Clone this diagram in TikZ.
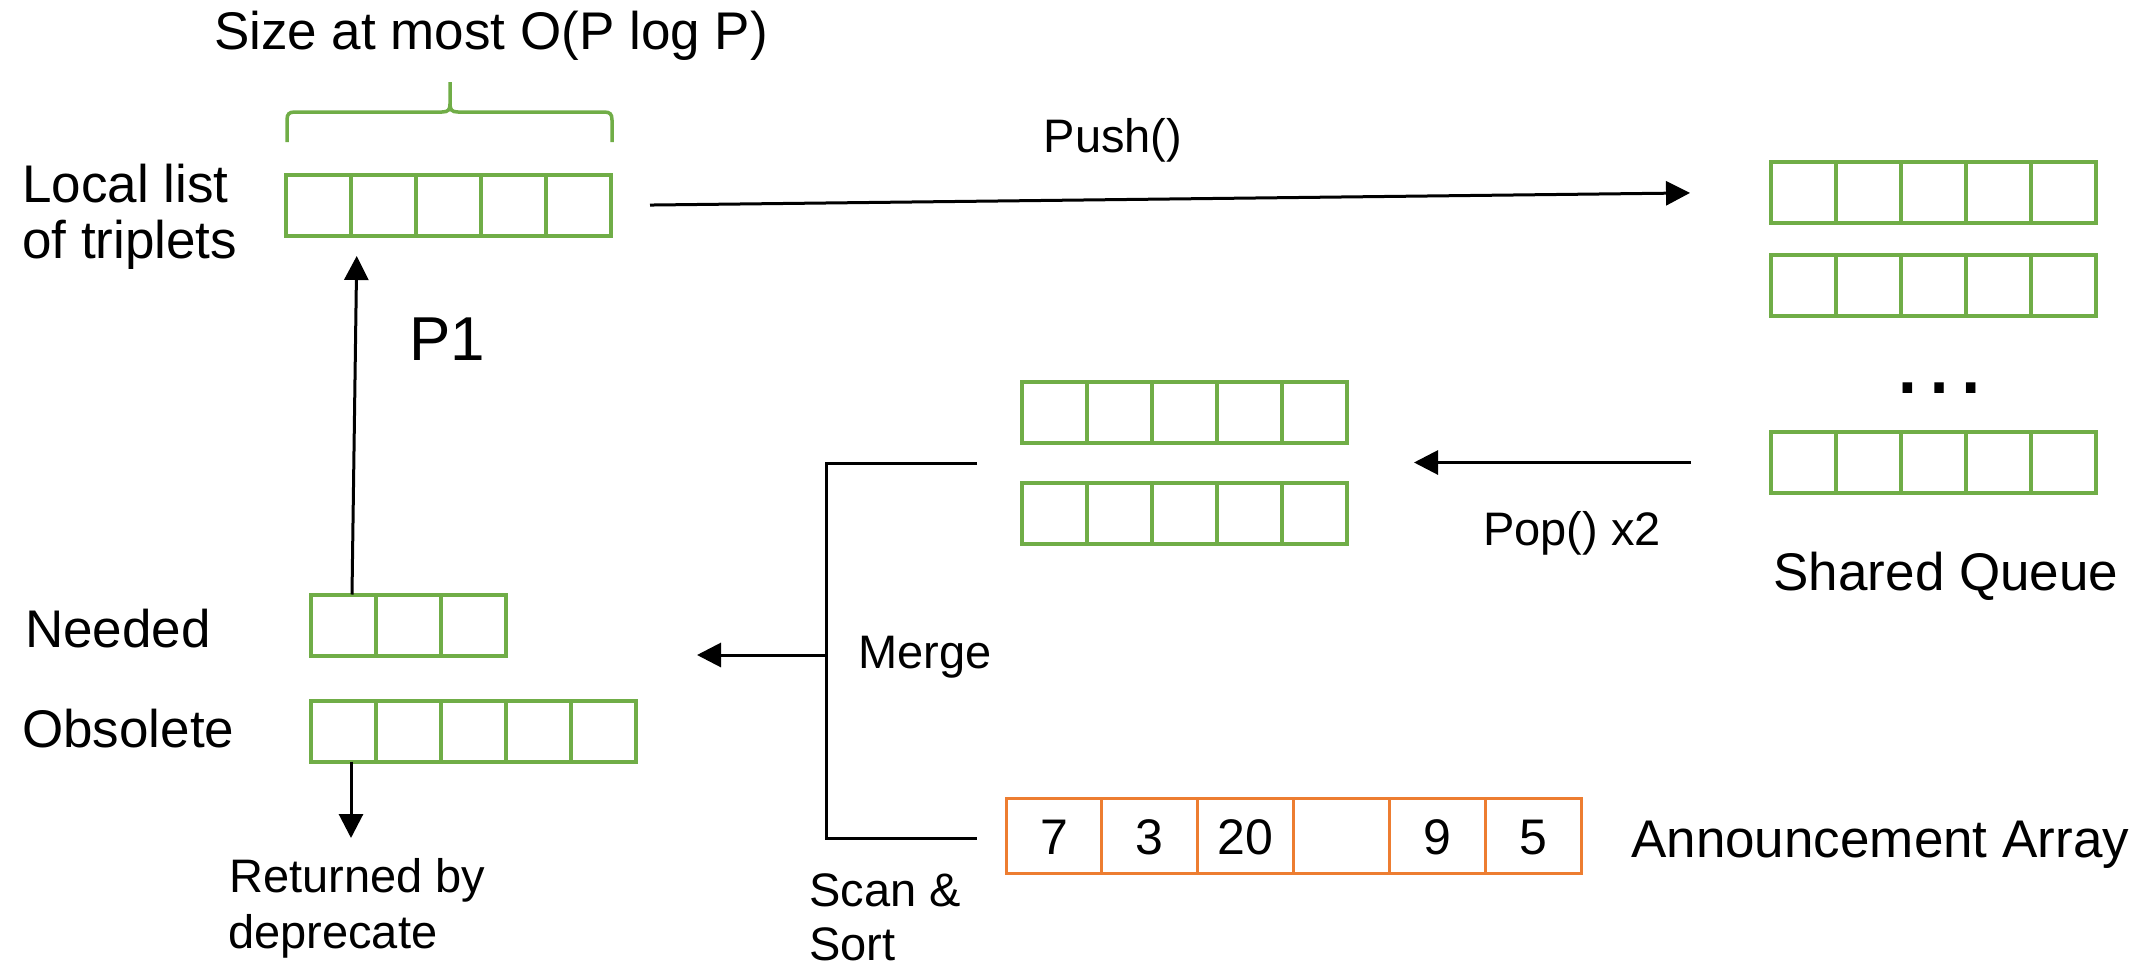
\documentclass[tikz,border=0pt]{standalone}
\usepackage{fontspec}
\setmainfont{Liberation Sans}
\usetikzlibrary{arrows.meta,calc}
\definecolor{cellgreen}{HTML}{70AD47}
\definecolor{cellorange}{HTML}{ED7D31}

% vertical separators inside a row of cells: node, number of separators, cell width, style
\newcommand\celldividers[4]{%
  \foreach \k in {1,...,#2}
    \draw[#4] ([xshift=\k*#3 pt]#1.north west) -- ([xshift=\k*#3 pt]#1.south west);}

\begin{document}
\begin{tikzpicture}[x=1pt,y=-1pt,
  big/.style={font=\fontsize{53}{60}\selectfont, inner sep=0pt},
  small/.style={font=\fontsize{47}{54}\selectfont, inner sep=0pt},
  num/.style={font=\fontsize{50}{56}\selectfont, inner sep=0pt},
  greenrow/.style={draw=cellgreen, line width=4pt, minimum height=61pt,
    inner sep=0pt, outer sep=0pt},
  greendiv/.style={draw=cellgreen, line width=3.5pt},
  orangerow/.style={draw=cellorange, line width=3pt, minimum height=75pt,
    minimum width=575pt, inner sep=0pt, outer sep=0pt},
  orangediv/.style={draw=cellorange, line width=3pt},
  conn/.style={line width=3pt},
  arr/.style={conn, -{Triangle[length=24pt,width=24pt]}},
]
\useasboundingbox (0,0) rectangle (2149,966);

% ---- local list of the process ----
\node[greenrow, minimum width=325pt] (loc) at (448.5,205.5) {};
\celldividers{loc}{4}{65}{greendiv}
\node[big, anchor=base west] (loclbl1) at (22,202) {Local list};
\node[big, anchor=base west] (loclbl2) at (22,258) {of triplets};

% size brace
\draw[cellgreen, line width=3.5pt]
  (287,142) -- (287,120) .. controls (287,114) and (289,112) .. (295,112)
  -- (442,112) .. controls (448,112) and (450,110) .. (450,104) -- (450,82);
\draw[cellgreen, line width=3.5pt]
  (450,104) .. controls (450,110) and (452,112) .. (458,112)
  -- (604,112) .. controls (610,112) and (612,114) .. (612,120) -- (612,142);
\node[big, anchor=base] (sizelbl) at (491,50) {Size at most O(P log P)};

\node[font=\fontsize{62}{66}\selectfont, inner sep=0pt, anchor=base] (p1) at (447,360) {P1};

% ---- shared queue ----
\node[greenrow, minimum width=325pt] (q1) at (1933.5,192) {};
\celldividers{q1}{4}{65}{greendiv}
\node[greenrow, minimum width=325pt] (q2) at (1933.5,285.5) {};
\celldividers{q2}{4}{65}{greendiv}
\node[greenrow, minimum width=325pt] (q3) at (1933.5,462.5) {};
\celldividers{q3}{4}{65}{greendiv}
\node[font=\fontsize{100}{100}\selectfont, inner sep=0pt, anchor=base] (qdots) at (1939,393) {…};
\node[big, anchor=base] (qlbl) at (1946,590) {Shared Queue};

% ---- popped lists ----
\node[greenrow, minimum width=325pt] (pa) at (1184.5,412) {};
\celldividers{pa}{4}{65}{greendiv}
\node[greenrow, minimum width=325pt] (pb) at (1184.5,513) {};
\celldividers{pb}{4}{65}{greendiv}
\coordinate (pmid) at ($(pa.south east)!0.5!(pb.north east)$);

% ---- announcement array ----
\node[orangerow] (ann) at (1293.5,835.5) {};
\celldividers{ann}{5}{95.83}{orangediv}
\foreach \c/\v in {1/7,2/3,3/20,5/9,6/5}
  \node[num, anchor=base] (ann\c) at ($(ann.west)+(\c*95.83-47.9,19)$) {\v};
\node[big, anchor=base west] (annlbl) at (1631,857) {Announcement Array};

% ---- needed / obsolete ----
\node[greenrow, minimum width=195pt] (need) at (408.5,625) {};
\celldividers{need}{2}{65}{greendiv}
\node[greenrow, minimum width=325pt] (obs) at (473.5,731) {};
\celldividers{obs}{4}{65}{greendiv}
\node[big, anchor=base west] (needlbl) at (25,647) {Needed};
\node[big, anchor=base west] (obslbl) at (22,747) {Obsolete};
\node[small, anchor=base west] (retlbl1) at (229,892) {Returned by};
\node[small, anchor=base west] (retlbl2) at (228,948) {deprecate};

% ---- connectors ----
\draw[arr, shorten <=39pt, shorten >=81pt] (loc.east) -- (q1.west);
\node[small, anchor=base] (pushlbl) at (1113,152) {Push()};

\draw[arr, shorten <=80pt, shorten >=67pt] (q3.west) -- (pmid);
\node[small, anchor=base west] (poplbl) at (1483,545) {Pop() x2};

\coordinate (brtopend) at (977,463);
\coordinate (brbotend) at (977,838);
\coordinate (brtop) at (826,463);
\coordinate (brbot) at (826,838);
\coordinate (brjoin) at (826,655);
\coordinate (mergetip) at (697,655);
\draw[conn] (brtopend) -- (brtop) -- (brbot) -- (brbotend);
\draw[arr] (brjoin) -- (mergetip);
\node[small, anchor=base west] (mergelbl) at (858,668) {Merge};
\node[small, anchor=base west] (scanlbl1) at (809,906) {Scan \&};
\node[small, anchor=base west] (scanlbl2) at (809,960) {Sort};

\draw[arr, shorten >=20pt] ([xshift=41pt]need.north west) -- ([xshift=71pt]loc.south west);
\coordinate (rettip) at (351,838);
\draw[arr] ([xshift=40pt]obs.south west) -- (rettip);
\end{tikzpicture}
\end{document}
